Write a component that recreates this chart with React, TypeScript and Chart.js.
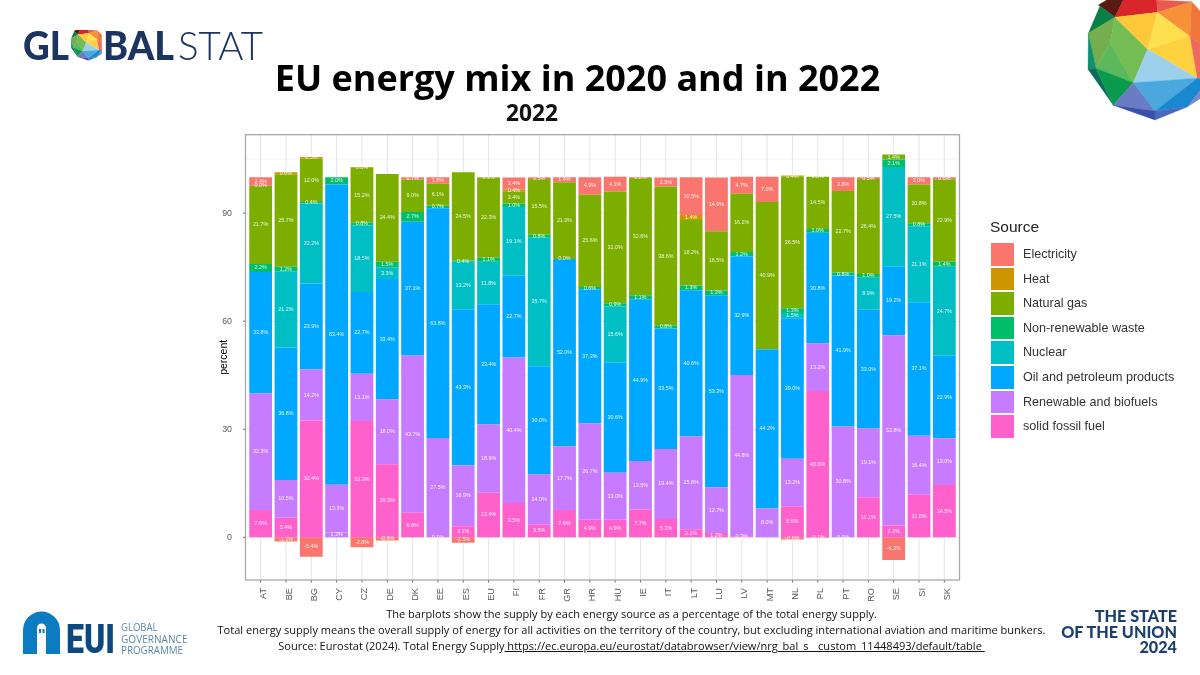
import React, { useEffect, useRef } from 'react';
import { Chart, registerables } from 'chart.js';

Chart.register(...registerables);

const countries = ['AT', 'BE', 'BG', 'CY', 'CZ', 'DE', 'DK', 'EE', 'ES', 'EU', 'FI', 'FR', 'GR', 'HR', 'HU', 'IE', 'IT', 'LT', 'LU', 'LV', 'MT', 'NL', 'PL', 'PT', 'RO', 'SE', 'SI', 'SK'];

// null = the source has no such bar for that country
const solidFossil = [7.6, 5.4, 32.4, 1.3, 32.3, 20.3, 6.8, 0.1, 3.1, 12.4, 9.5, 3.5, 7.6, 4.9, 4.9, 7.7, 5.1, 2.2, 1.2, 0.3, null, 8.6, 40.6, 0.0, 11.1, 3.3, 11.8, 14.5];
const renewable = [32.3, 10.5, 14.2, 13.3, 13.1, 18.0, 43.7, 27.5, 16.9, 18.9, 40.4, 14.0, 17.7, 26.7, 13.0, 13.5, 19.4, 25.8, 12.7, 44.8, 8.0, 13.2, 13.2, 30.8, 19.1, 52.8, 16.4, 13.0];
const oil = [33.8, 36.8, 23.9, 83.4, 22.7, 33.4, 37.1, 63.8, 43.3, 33.4, 22.7, 30.0, 52.0, 37.3, 30.6, 44.9, 33.5, 40.6, 53.3, 32.9, 44.2, 39.0, 30.8, 41.9, 33.0, 19.2, 37.1, 22.9];
const nuclear = [null, 21.2, 22.2, null, 18.5, 3.3, null, null, 13.2, 11.8, 19.1, 35.7, null, null, 15.6, null, null, null, null, null, null, 1.5, null, null, 8.9, 27.5, 21.1, 24.7];
const waste = [2.2, 1.2, 0.4, 2.0, 0.8, 1.5, 2.7, 0.7, 0.4, 1.1, 1.0, 0.8, 0.0, 0.6, 0.9, 1.1, 0.8, 1.3, 1.3, 1.2, null, 1.3, 1.0, 0.8, 1.0, 2.1, 0.8, 1.4];
const naturalGas = [21.7, 25.7, 12.0, null, 15.2, 24.4, 9.0, 6.1, 24.5, 22.3, 3.4, 15.5, 21.3, 25.6, 31.0, 32.6, 38.6, 18.2, 16.5, 16.2, 40.9, 36.5, 14.5, 22.7, 26.4, 1.4, 10.8, 22.9];
const heat = [0.0, 0.6, 0.5, null, 0.2, null, null, null, null, 0.1, 0.4, null, null, null, null, null, null, 1.4, null, null, null, 0.4, 0.0, null, null, null, null, null];
const electricity = [2.4, -1.2, -5.4, null, -2.8, -0.9, 0.7, 1.8, -1.5, null, 3.4, 0.5, 1.4, 4.9, 4.1, 0.2, 2.5, 10.5, 14.9, 4.7, 7.0, -0.6, -0.1, 3.8, 0.5, -6.3, 2.0, 0.6];

const sourceNames = ['Electricity', 'Heat', 'Natural gas', 'Non-renewable waste', 'Nuclear', 'Oil and petroleum products', 'Renewable and biofuels', 'solid fossil fuel'];
const sourceColors = ['#F8766D', '#CD9600', '#7CAE00', '#00BE67', '#00BFC4', '#00A9FF', '#C77CFF', '#FF61CC'];

const yTicks = [0, 30, 60, 90];
const yMinor = [15, 45, 75, 105];

const footerLines = [
  'The barplots show the supply by each energy source as a percentage of the total energy supply.',
  'Total energy supply means the overall supply of energy for all activities on the territory of the country, but excluding international aviation and maritime bunkers.',
];
const sourceText = 'Source: Eurostat (2024). Total Energy Supply';
const sourceLink = ' https://ec.europa.eu/eurostat/databrowser/view/nrg_bal_s__custom_11448493/default/table ';

// sphere facets of the logo, in the coordinates of a 445x360 box
const facets: [string, string][] = [
  ['115,15 140,0 190,0 165,52', '#5a1a14'],
  ['190,0 290,0 293,37 165,52', '#d9262b'],
  ['290,0 395,5 293,37', '#e85a50'],
  ['120,18 165,52 85,100', '#0a8048'],
  ['85,100 165,52 150,130 108,205', '#74ae4e'],
  ['165,52 263,148 220,248 150,130', '#74bd55'],
  ['150,130 220,248 108,205', '#5cb85c'],
  ['85,100 108,205 84,208', '#0f8f6e'],
  ['84,208 108,205 160,316', '#0c6e5a'],
  ['108,205 220,248 160,316', '#0a9a4e'],
  ['165,52 293,37 263,148', '#fdc93a'],
  ['293,37 390,108 263,148', '#fde050'],
  ['263,148 390,108 412,235', '#fed23f'],
  ['293,37 395,5 390,108', '#f6913a'],
  ['395,5 445,60 445,150 390,108', '#f0763a'],
  ['390,108 445,150 445,240 412,235', '#ee6a5f'],
  ['263,148 412,235 220,248', '#9dd0ea'],
  ['220,248 412,235 285,333', '#4aa8de'],
  ['412,235 445,240 383,320 285,333', '#1a88cf'],
  ['160,316 220,248 285,333', '#6a7cc4'],
  ['160,316 285,333 285,360', '#3a50a8'],
  ['285,360 285,333 383,320', '#4a68c0'],
  ['383,320 445,240 445,280', '#7a88c8'],
];

// ggplot-like panel: border, major and minor grid and ticks sit a little outside the category range
const panelPlugin = {
  id: 'panel',
  beforeDatasetsDraw(chart: any) {
    const { ctx, chartArea, scales } = chart;
    const left = chartArea.left - 2.5;
    const right = chartArea.right + 2.5;
    ctx.save();
    ctx.strokeStyle = '#f1f1f1';
    ctx.lineWidth = 0.8;
    yMinor.forEach((v) => {
      const y = scales.y.getPixelForValue(v);
      ctx.beginPath();
      ctx.moveTo(left, y);
      ctx.lineTo(right, y);
      ctx.stroke();
    });
    ctx.strokeStyle = '#e6e6e6';
    ctx.lineWidth = 1.1;
    yTicks.forEach((v) => {
      const y = scales.y.getPixelForValue(v);
      ctx.beginPath();
      ctx.moveTo(left, y);
      ctx.lineTo(right, y);
      ctx.stroke();
    });
    countries.forEach((_, i) => {
      const x = scales.x.getPixelForTick(i);
      ctx.beginPath();
      ctx.moveTo(x, chartArea.top);
      ctx.lineTo(x, chartArea.bottom);
      ctx.stroke();
    });
    ctx.strokeStyle = '#666666';
    ctx.lineWidth = 1;
    yTicks.forEach((v) => {
      const y = scales.y.getPixelForValue(v);
      ctx.beginPath();
      ctx.moveTo(left - 2.5, y);
      ctx.lineTo(left, y);
      ctx.stroke();
    });
    countries.forEach((_, i) => {
      const x = scales.x.getPixelForTick(i);
      ctx.beginPath();
      ctx.moveTo(x, chartArea.bottom);
      ctx.lineTo(x, chartArea.bottom + 2.5);
      ctx.stroke();
    });
    ctx.strokeStyle = '#a8a8a8';
    ctx.lineWidth = 1.3;
    ctx.strokeRect(left, chartArea.top, right - left, chartArea.bottom - chartArea.top);
    ctx.restore();
  },
};

// percent label in the middle of each bar segment
const segmentLabelPlugin = {
  id: 'segmentLabels',
  afterDatasetsDraw(chart: any) {
    const { ctx } = chart;
    ctx.save();
    ctx.font = '5.4px "Liberation Sans"';
    ctx.fillStyle = 'rgba(255,255,255,0.88)';
    ctx.textAlign = 'center';
    ctx.textBaseline = 'middle';
    chart.data.datasets.forEach((ds: any, d: number) => {
      chart.getDatasetMeta(d).data.forEach((bar: any, i: number) => {
        const v = ds.data[i];
        if (v === null) return;
        ctx.fillText(v.toFixed(1) + '%', bar.x, (bar.y + bar.base) / 2);
      });
    });
    ctx.restore();
  },
};

const EnergyMixChart: React.FC = () => {
  const chartRef = useRef<HTMLCanvasElement>(null);

  useEffect(() => {
    if (!chartRef.current) return;
    // stacked from zero outwards, so the last source in the legend goes first
    const series = [electricity, heat, naturalGas, waste, nuclear, oil, renewable, solidFossil];
    const datasets = series
      .map((data, i) => ({
        label: sourceNames[i],
        data,
        // Cyprus' small bottom segment is purple in the picture
        backgroundColor: data === solidFossil
          ? countries.map((c) => (c === 'CY' ? sourceColors[6] : sourceColors[7]))
          : sourceColors[i],
        borderWidth: 0,
        barPercentage: 0.9,
        categoryPercentage: 1,
      }))
      .reverse();

    const chart = new Chart(chartRef.current, {
      type: 'bar',
      data: { labels: countries, datasets },
      options: {
        responsive: false,
        devicePixelRatio: 1,
        animation: false,
        layout: { padding: { left: 218, right: 243, top: 134.7, bottom: 65 } },
        plugins: { legend: { display: false }, tooltip: { enabled: false } },
        scales: {
          x: {
            stacked: true,
            grid: { display: false },
            border: { display: false },
            afterFit: (s: any) => {
              s.height = 30;
            },
            ticks: {
              autoSkip: false,
              minRotation: 90,
              maxRotation: 90,
              padding: 0,
              labelOffset: 3,
              color: '#5a5a5a',
              font: { family: 'Liberation Sans', size: 9.2 },
            },
          },
          y: {
            stacked: true,
            min: -11.86,
            max: 111.8,
            grid: { display: false },
            border: { display: false },
            afterFit: (s: any) => {
              s.width = 30;
            },
            afterBuildTicks: (s: any) => {
              s.ticks = yTicks.map((value) => ({ value }));
            },
            title: {
              display: true,
              text: 'percent',
              color: '#000000',
              padding: 0,
              font: { family: 'Liberation Sans', size: 10.5 },
            },
            ticks: {
              padding: 8,
              color: '#5a5a5a',
              font: { family: 'Liberation Sans', size: 8.8 },
            },
          },
        },
      },
      plugins: [panelPlugin, segmentLabelPlugin],
    });

    return () => chart.destroy();
  }, []);

  return <canvas ref={chartRef} width={1200} height={675} style={{ position: 'absolute', left: 0, top: 0 }} />;
};

const Sphere: React.FC<{ x: number; y: number; scale: number }> = ({ x, y, scale }) => (
  <g transform={`translate(${x},${y}) scale(${scale})`}>
    {facets.map(([points, fill]) => (
      <polygon key={points} points={points} fill={fill} stroke={fill} strokeWidth={1} />
    ))}
  </g>
);

const Decorations: React.FC = () => (
  <svg width={1200} height={675} style={{ position: 'absolute', left: 0, top: 0 }}>
    {/* GLOBALSTAT */}
    <g fill="#1c3460" fontFamily="Lato" fontSize={40}>
      <text x={23} y={60} fontWeight={900} textLength={46} lengthAdjust="spacingAndGlyphs">GL</text>
      <text x={103} y={60} fontWeight={900} textLength={71} lengthAdjust="spacingAndGlyphs">BAL</text>
      <text x={178} y={60} fontWeight={300} textLength={85} lengthAdjust="spacingAndGlyphs">STAT</text>
    </g>
    <Sphere x={64} y={30} scale={0.085} />
    <Sphere x={1060} y={0} scale={1 / 3} />

    {/* EUI */}
    <path d="M23 654 V630 A18.5 18.5 0 0 1 60 630 V654 H46 V628 A4.5 4.5 0 0 0 37 628 V654 Z" fill="#0b7cc1" />
    <rect x={39} y={629} width={2} height={4} fill="#0b7cc1" />
    <rect x={42.5} y={629} width={2} height={4} fill="#0b7cc1" />
    <text x={66} y={653} fill="#0b4a80" fontFamily="Roboto" fontWeight={900} fontSize={40} textLength={49} lengthAdjust="spacingAndGlyphs">EUI</text>
    <g fill="#5b87b0" fontFamily="Open Sans" fontSize={10.5}>
      <text x={121} y={631} textLength={36.5} lengthAdjust="spacingAndGlyphs">GLOBAL</text>
      <text x={121} y={642.5} textLength={66.5} lengthAdjust="spacingAndGlyphs">GOVERNANCE</text>
      <text x={121} y={654} textLength={62} lengthAdjust="spacingAndGlyphs">PROGRAMME</text>
    </g>

    {/* THE STATE OF THE UNION */}
    <g fill="#1d3f6e" fontFamily="Lato" fontWeight={900} fontSize={16.2} textAnchor="end">
      <text x={1177} y={621.5}>THE STATE</text>
      <text x={1177} y={637.5}>OF THE UNION</text>
      <text x={1177} y={652.5}>2024</text>
    </g>
  </svg>
);

const textBase: React.CSSProperties = { position: 'absolute', fontFamily: '"Open Sans"', whiteSpace: 'pre', textAlign: 'center' };

const App: React.FC = () => (
  <div style={{ position: 'absolute', left: 0, top: 0, width: 1200, height: 675, overflow: 'hidden', background: '#ffffff' }}>
    <EnergyMixChart />
    <Decorations />
    <div style={{ ...textBase, left: 0, width: 1155, top: 55, fontSize: 36, fontWeight: 700, lineHeight: '46px', color: '#000000' }}>
      EU energy mix in 2020 and in 2022
    </div>
    <div style={{ ...textBase, left: 432, width: 200, top: 98, fontSize: 22.7, fontWeight: 700, lineHeight: '30px', color: '#111111' }}>
      2022
    </div>
    {/* legend */}
    <div style={{ position: 'absolute', left: 990, top: 216, fontFamily: '"Liberation Sans"', fontSize: 15.5, lineHeight: '22px', color: '#222222' }}>
      Source
    </div>
    {sourceNames.map((name, i) => (
      <React.Fragment key={name}>
        <div style={{ position: 'absolute', left: 990.5, top: 243 + i * 24.6, width: 23.5, height: 22.5, background: sourceColors[i] }} />
        <div style={{ position: 'absolute', left: 1023, top: 243 + i * 24.6, fontFamily: '"Liberation Sans"', fontSize: 12.6, lineHeight: '22.5px', color: '#333333', whiteSpace: 'pre' }}>
          {name}
        </div>
      </React.Fragment>
    ))}
    {/* footnote */}
    <div style={{ ...textBase, left: 0, width: 1263, top: 606, fontSize: 11.05, lineHeight: '16px', color: '#111111' }}>
      {footerLines[0]}
      {'\n'}
      {footerLines[1]}
      {'\n'}
      {sourceText}
      <span style={{ textDecoration: 'underline' }}>{sourceLink}</span>
    </div>
  </div>
);

export default App;
